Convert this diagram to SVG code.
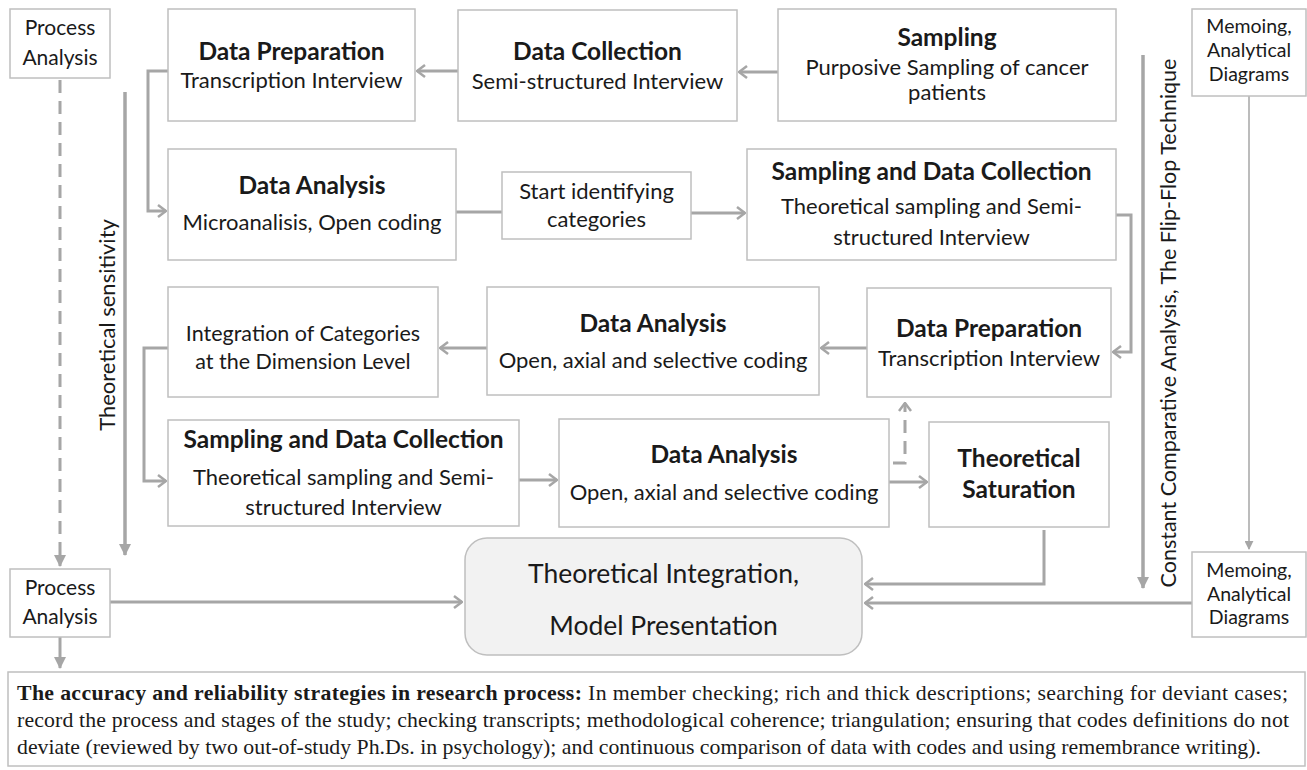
<svg xmlns="http://www.w3.org/2000/svg" width="1307" height="770" viewBox="0 0 1307 770">
<defs>
<style>
.box{fill:#fff;stroke:#bfbfbf;stroke-width:1.5}
.t{font-family:Lato,'Liberation Sans',sans-serif;font-size:22px;fill:#1a1a1a;text-anchor:middle}
.b{font-weight:bold;font-size:24.5px}
.s{font-size:21px}
.m{font-size:19.5px}
.c{fill:none;stroke:#a6a6a6;stroke-width:3}
.d{stroke-dasharray:13 8}
.thin{fill:none;stroke:#a6a6a6;stroke-width:1.5}
.note{font-family:'Liberation Serif',serif;font-size:21.8px;fill:#1a1a1a}
</style>
<marker id="chev" markerUnits="userSpaceOnUse" viewBox="0 0 10 14" markerWidth="10" markerHeight="14" refX="9" refY="7" orient="auto">
<path d="M1,1 L9,7 L1,13" fill="none" stroke="#a6a6a6" stroke-width="2.5"/>
</marker>
<marker id="tri" markerUnits="userSpaceOnUse" viewBox="0 0 12 12" markerWidth="12" markerHeight="12" refX="11" refY="6" orient="auto">
<path d="M0,0 L12,6 L0,12 z" fill="#a6a6a6"/>
</marker>
<marker id="tris" markerUnits="userSpaceOnUse" viewBox="0 0 10 10" markerWidth="9" markerHeight="9" refX="9" refY="5" orient="auto">
<path d="M0,0 L10,5 L0,10 z" fill="#a6a6a6"/>
</marker>
</defs>
<rect width="1307" height="770" fill="#fff"/>

<g id="connectors">
<path class="c d" d="M60,80 V566" marker-end="url(#tri)"/>
<path class="c" d="M60,637 V668" marker-end="url(#tri)"/>
<path class="c" d="M110,602 H462" marker-end="url(#chev)"/>
<path class="c" style="stroke-width:3.5" d="M125,92 V555" marker-end="url(#tri)"/>
<path class="c" d="M168,71 H148 V211 H166" marker-end="url(#chev)"/>
<path class="c" d="M458,71 H417" marker-end="url(#chev)"/>
<path class="c" d="M778,72 H739" marker-end="url(#chev)"/>
<path class="c" d="M456,212 H502"/>
<path class="c" d="M691,213 H745" marker-end="url(#chev)"/>
<path class="c" d="M1116,215 H1131 V352 H1113" marker-end="url(#chev)"/>
<path class="c" d="M867,348 H821" marker-end="url(#chev)"/>
<path class="c" d="M487,348 H440" marker-end="url(#chev)"/>
<path class="c" d="M168,348 H144 V481 H166" marker-end="url(#chev)"/>
<path class="c" d="M519,480 H557" marker-end="url(#chev)"/>
<path class="c" d="M889,482 H927" marker-end="url(#chev)"/>
<path class="c d" d="M893,463 H905 V403" marker-end="url(#chev)"/>
<path class="c" d="M1044,530 V584 H865" marker-end="url(#chev)"/>
<path class="c" d="M1192,603 H865" marker-end="url(#chev)"/>
<path class="thin" d="M1249,96 V549" marker-end="url(#tris)"/>
<path class="c" style="stroke-width:3.5" d="M1143,55 V588" marker-end="url(#tri)"/>
</g>

<g id="label-sensitivity">
<text class="t" transform="translate(115,325) rotate(-90)">Theoretical sensitivity</text>
</g>
<g id="label-constant">
<text class="t" style="font-size:21.5px" transform="translate(1176,323) rotate(-90)">Constant Comparative Analysis, The Flip-Flop Technique</text>
</g>

<g id="process-analysis-top">
<rect class="box" x="10" y="9" width="100" height="69"/>
<text class="t s" x="60" y="35">Process</text>
<text class="t s" x="60" y="65">Analysis</text>
</g>

<g id="data-preparation-1">
<rect class="box" x="168" y="9" width="247" height="112"/>
<text class="t b" x="291.5" y="60">Data Preparation</text>
<text class="t" x="291.5" y="88">Transcription Interview</text>
</g>

<g id="data-collection">
<rect class="box" x="458" y="10" width="279" height="111"/>
<text class="t b" x="597.5" y="60">Data Collection</text>
<text class="t" x="597.5" y="89">Semi-structured Interview</text>
</g>

<g id="sampling">
<rect class="box" x="778" y="9" width="338" height="112"/>
<text class="t b" x="947" y="46">Sampling</text>
<text class="t" x="947" y="75">Purposive Sampling of cancer</text>
<text class="t" x="947" y="100">patients</text>
</g>

<g id="memoing-top">
<rect class="box" x="1192" y="9" width="114" height="87"/>
<text class="t m" x="1249" y="33">Memoing,</text>
<text class="t m" x="1249" y="57">Analytical</text>
<text class="t m" x="1249" y="81">Diagrams</text>
</g>

<g id="data-analysis-1">
<rect class="box" x="168" y="149" width="288" height="111"/>
<text class="t b" x="312" y="194">Data Analysis</text>
<text class="t" x="312" y="230">Microanalisis, Open coding</text>
</g>

<g id="start-identifying">
<rect class="box" x="502" y="172" width="189" height="67"/>
<text class="t" x="596.5" y="199">Start identifying</text>
<text class="t" x="596.5" y="227">categories</text>
</g>

<g id="sampling-data-collection-1">
<rect class="box" x="747" y="149" width="369" height="111"/>
<text class="t b" x="931.5" y="180">Sampling and Data Collection</text>
<text class="t" x="931.5" y="214">Theoretical sampling and Semi-</text>
<text class="t" x="931.5" y="245">structured Interview</text>
</g>

<g id="integration-categories">
<rect class="box" x="168" y="287" width="270" height="110"/>
<text class="t" style="font-size:21.5px" x="303" y="341">Integration of Categories</text>
<text class="t" style="font-size:21.5px" x="303" y="369">at the Dimension Level</text>
</g>

<g id="data-analysis-2">
<rect class="box" x="487" y="287" width="332" height="108"/>
<text class="t b" x="653" y="332">Data Analysis</text>
<text class="t" x="653" y="368">Open, axial and selective coding</text>
</g>

<g id="data-preparation-2">
<rect class="box" x="867" y="288" width="244" height="109"/>
<text class="t b" x="989" y="337">Data Preparation</text>
<text class="t" x="989" y="366">Transcription Interview</text>
</g>

<g id="sampling-data-collection-2">
<rect class="box" x="168" y="420" width="351" height="106"/>
<text class="t b" x="343.5" y="448">Sampling and Data Collection</text>
<text class="t" x="343.5" y="485">Theoretical sampling and Semi-</text>
<text class="t" x="343.5" y="515">structured Interview</text>
</g>

<g id="data-analysis-3">
<rect class="box" x="559" y="419" width="330" height="108"/>
<text class="t b" x="724" y="463">Data Analysis</text>
<text class="t" x="724" y="500">Open, axial and selective coding</text>
</g>

<g id="theoretical-saturation">
<rect class="box" x="929" y="422" width="180" height="105"/>
<text class="t b" x="1019" y="467">Theoretical</text>
<text class="t b" x="1019" y="498">Saturation</text>
</g>

<g id="theoretical-integration">
<rect x="465" y="538" width="397" height="117" rx="22" fill="#f2f2f2" stroke="#bfbfbf" stroke-width="1.5"/>
<text class="t" style="font-size:26.5px" x="663.5" y="583">Theoretical Integration,</text>
<text class="t" style="font-size:26.5px" x="663.5" y="635">Model Presentation</text>
</g>

<g id="process-analysis-bottom">
<rect class="box" x="10" y="569" width="100" height="68"/>
<text class="t s" x="60" y="595">Process</text>
<text class="t s" x="60" y="624">Analysis</text>
</g>

<g id="memoing-bottom">
<rect class="box" x="1192" y="552" width="114" height="85"/>
<text class="t m" x="1249" y="577">Memoing,</text>
<text class="t m" x="1249" y="601">Analytical</text>
<text class="t m" x="1249" y="624">Diagrams</text>
</g>

<g id="strategies-note">
<rect x="8" y="672" width="1297" height="94" fill="#fff" stroke="#bfbfbf" stroke-width="1.5"/>
<text class="note" x="17" y="700" textLength="1271" lengthAdjust="spacing"><tspan font-weight="bold">The accuracy and reliability strategies in research process:</tspan> In member checking; rich and thick descriptions; searching for deviant cases;</text>
<text class="note" x="17" y="727" textLength="1272" lengthAdjust="spacing">record the process and stages of the study; checking transcripts; methodological coherence; triangulation; ensuring that codes definitions do not</text>
<text class="note" x="17" y="754">deviate (reviewed by two out-of-study Ph.Ds. in psychology); and continuous comparison of data with codes and using remembrance writing).</text>
</g>
</svg>
